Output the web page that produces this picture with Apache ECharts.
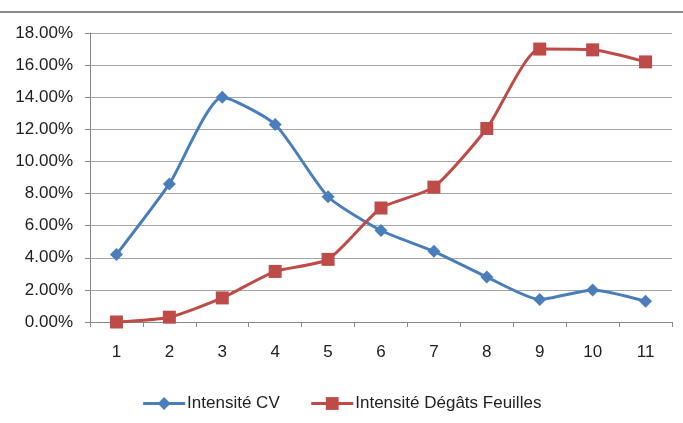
<!DOCTYPE html>
<html><head><meta charset="utf-8">
<script src="https://cdn.jsdelivr.net/npm/echarts@6/dist/echarts.min.js"></script>
<style>html,body{margin:0;padding:0;background:#fff}#c{width:683px;height:423px}</style>
</head><body><div id="c"></div>
<script>
var categories = ['1','2','3','4','5','6','7','8','9','10','11'];
var intensiteCV = [4.2, 8.6, 14.0, 12.3, 7.8, 5.7, 4.4, 2.8, 1.4, 2.0, 1.3];
var intensiteDegats = [0.0, 0.3, 1.5, 3.15, 3.9, 7.1, 8.4, 12.05, 17.0, 16.95, 16.2];
var yTicks = [0, 2, 4, 6, 8, 10, 12, 14, 16, 18];

var chart = echarts.init(document.getElementById('c'));
var font = 'Liberation Sans';
chart.setOption({
  animation: false,
  backgroundColor: '#fff',
  graphic: [{type: 'line', shape: {x1: 0, y1: 12, x2: 683, y2: 12}, style: {stroke: '#8c8c8c', lineWidth: 2}}],
  grid: {left: 90, right: 11, top: 33, bottom: 101, containLabel: false},
  legend: {
    bottom: 6, left: 'center', itemGap: 30, itemWidth: 42, itemHeight: 16,
    lineStyle: {width: 3},
    textStyle: {fontFamily: font, fontSize: 17, color: '#222', padding: [0, 0, 0, -3]},
    data: ['Intensité CV', 'Intensité Dégâts Feuilles']
  },
  xAxis: {
    type: 'category', data: categories, boundaryGap: true,
    axisLine: {lineStyle: {color: '#888', width: 1}},
    axisTick: {show: true, length: 5, lineStyle: {color: '#888'}},
    axisLabel: {fontFamily: font, fontSize: 17, color: '#222', margin: 22}
  },
  yAxis: {
    type: 'value', min: yTicks[0], max: yTicks[yTicks.length - 1], interval: 2,
    axisLine: {show: true, lineStyle: {color: '#888'}},
    axisTick: {show: true, length: 5, lineStyle: {color: '#888'}},
    splitLine: {lineStyle: {color: '#a6a6a6', width: 1}},
    axisLabel: {fontFamily: font, fontSize: 17, color: '#222', margin: 17,
      formatter: function (v) { return v.toFixed(2) + '%'; }}
  },
  series: [
    {name: 'Intensité CV', type: 'line', data: intensiteCV, smooth: 0.2,
     symbol: 'diamond', symbolSize: 13,
     lineStyle: {color: '#4A7EBB', width: 3}, itemStyle: {color: '#4A7EBB'}},
    {name: 'Intensité Dégâts Feuilles', type: 'line', data: intensiteDegats, smooth: 0.2,
     symbol: 'rect', symbolSize: 13,
     lineStyle: {color: '#BE4B48', width: 3}, itemStyle: {color: '#BE4B48'}}
  ]
});
</script></body></html>
